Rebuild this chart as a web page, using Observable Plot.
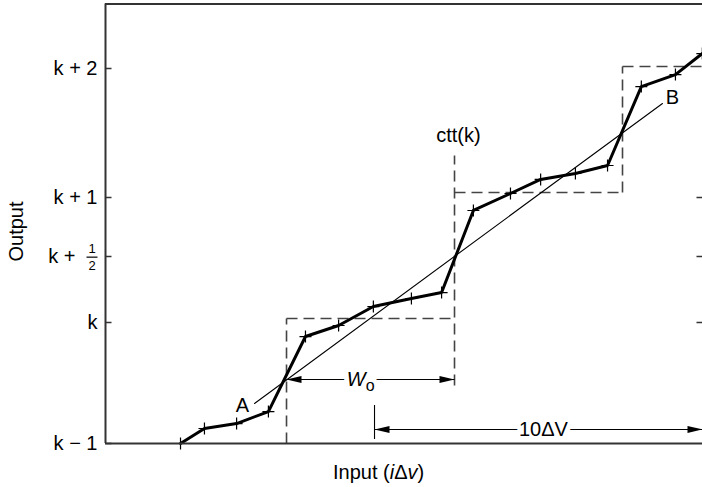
<!DOCTYPE html>
<html><head><meta charset="utf-8">
<script src="https://cdn.jsdelivr.net/npm/d3@7"></script>
<script src="https://cdn.jsdelivr.net/npm/@observablehq/plot@0.6"></script>
<style>body{margin:0;background:#fff}</style>
</head><body><div id="chart"></div>
<script>
// ---- data (x in units of Δv steps, y in output levels relative to k) ----
const inputI = [0, 0.73, 1.71, 2.68, 3.81, 4.82, 5.88, 7.04, 7.96, 8.93, 10.06, 10.98, 12.04, 13.02, 14.05, 15.09, 15.91];
const outputLevel = [-1, -0.876, -0.835, -0.736, -0.116, -0.025, 0.121, 0.182, 0.227, 0.890, 1.031, 1.140, 1.186, 1.248, 1.860, 1.953, 2.116];
const idealI = [2.256, 14.695];
const idealOut = [-0.669, 1.729];
const thresholdI = [3.232, 8.354, 13.476];
const levelOut = [0.030, 1.039, 2.016];
const cttSpan = [-0.521, 1.326];
const yTicks = [-1, 0, 0.5, 1, 2];
const yTickLabels = ["k − 1", "k", "k +", "k + 1", "k + 2"];
const rightTicks = [0, 0.5, 1];
const woSpan = [3.232, 8.354];
const woLevel = -0.471;
const dvStart = 5.915;
const dvSteps = 10;
const dvLevel = -0.884;
const dvBar = [-0.967, -0.686];
const xDomain = [-2.287, 15.915];
const yTop = 2.5;

// ---- derived tables ----
const curve = inputI.map((x, i) => ({x, y: outputLevel[i]}));
const ideal = idealI.map((x, i) => ({x, y: idealOut[i]}));
const dashed = [
  {x1: thresholdI[0], y1: -1, x2: thresholdI[0], y2: levelOut[0]},
  {x1: thresholdI[0], y1: levelOut[0], x2: thresholdI[1], y2: levelOut[0]},
  {x1: thresholdI[1], y1: cttSpan[0], x2: thresholdI[1], y2: cttSpan[1]},
  {x1: thresholdI[1], y1: levelOut[1], x2: thresholdI[2], y2: levelOut[1]},
  {x1: thresholdI[2], y1: levelOut[1], x2: thresholdI[2], y2: levelOut[2]},
  {x1: thresholdI[2], y1: levelOut[2], x2: xDomain[1], y2: levelOut[2]}
];
const dvEnd = dvStart + dvSteps;
const arrows = [
  {x1: woSpan[0], x2: woSpan[1], y: woLevel},
  {x1: dvStart, x2: dvEnd, y: dvLevel}
];
const headsLeft = arrows.map(a => ({x: a.x1, y: a.y}));
const headsRight = arrows.map(a => ({x: a.x2, y: a.y}));
const tickRows = yTicks.map((v, i) => ({v, label: yTickLabels[i]}));

// schematic (non-uniform) spacing of the output levels
const levelSpacing = d3.scaleLinear().domain([-1, 0, 0.5, 1, 2, yTop]).range([0, 121, 187, 246, 375, 439.5]);

// ---- symbols ----
const plusSym = {draw(c, s) { const r = Math.sqrt(s / Math.PI); c.moveTo(-r, 0); c.lineTo(r, 0); c.moveTo(0, -r); c.lineTo(0, r); }};
const headR = {draw(c) { c.moveTo(0, 0); c.lineTo(-15, -3.5); c.lineTo(-15, 3.5); c.closePath(); }};
const headL = {draw(c) { c.moveTo(0, 0); c.lineTo(15, -3.5); c.lineTo(15, 3.5); c.closePath(); }};
const tickInR = {draw(c, s) { const r = Math.sqrt(s / Math.PI); c.moveTo(0, 0); c.lineTo(r, 0); }};
const tickInL = {draw(c, s) { const r = Math.sqrt(s / Math.PI); c.moveTo(0, 0); c.lineTo(-r, 0); }};

const axisCol = "#333";
const xMin = xDomain[0];

const chart = Plot.plot({
  width: 702,
  height: 487,
  marginLeft: 105, marginRight: 0, marginTop: 0, marginBottom: 0,
  style: {fontFamily: "'Liberation Sans', Arial, Helvetica, sans-serif", fontSize: "20px", background: "white", color: "black"},
  x: {domain: xDomain, range: [105, 702], axis: null},
  y: {transform: levelSpacing, domain: [0, 439.5], range: [443, 3.5], axis: null},
  marks: [
    Plot.link(dashed, {x1: "x1", y1: "y1", x2: "x2", y2: "y2", stroke: "#444", strokeWidth: 1.6, strokeDasharray: "11,6"}),
    Plot.line(ideal, {x: "x", y: "y", stroke: "black", strokeWidth: 1.1}),
    Plot.line(curve, {x: "x", y: "y", stroke: "black", strokeWidth: 3, strokeLinejoin: "round"}),
    Plot.dot(curve, {x: "x", y: "y", symbol: plusSym, r: 6, stroke: "black", strokeWidth: 1.2, fill: "none"}),
    Plot.ruleY([yTop, -1], {stroke: axisCol, strokeWidth: 2}),
    Plot.ruleX([xMin], {y1: -1, y2: yTop, stroke: axisCol, strokeWidth: 2}),
    Plot.dot(yTicks, {x: xMin, y: d => d, symbol: tickInR, r: 6, stroke: axisCol, strokeWidth: 1.5, fill: "none"}),
    Plot.dot(rightTicks, {x: xDomain[1], y: d => d, symbol: tickInL, r: 6, stroke: axisCol, strokeWidth: 1.5, fill: "none"}),
    Plot.text(tickRows.filter(d => d.v !== 0.5), {x: xMin, y: "v", text: "label", textAnchor: "end", dx: -8}),
    Plot.text(tickRows.filter(d => d.v === 0.5), {x: xMin, y: "v", text: "label", textAnchor: "end", dx: -30}),
    Plot.text(["1"], {x: xMin, y: 0.5, text: d => d, dx: -13.5, dy: -8, fontSize: 13}),
    Plot.text(["2"], {x: xMin, y: 0.5, text: d => d, dx: -13.5, dy: 9, fontSize: 13}),
    Plot.link(arrows, {x1: "x1", x2: "x2", y1: "y", y2: "y", stroke: "black", strokeWidth: 1.1}),
    Plot.dot(headsLeft, {x: "x", y: "y", symbol: headL, fill: "black", stroke: "none"}),
    Plot.dot(headsRight, {x: "x", y: "y", symbol: headR, fill: "black", stroke: "none"}),
    Plot.ruleX([dvStart], {y1: dvBar[0], y2: dvBar[1], stroke: "black", strokeWidth: 1.1}),
    Plot.text(["10ΔV"], {x: (dvStart + dvEnd) / 2 + 0.15, y: dvLevel, text: d => d, stroke: "white", strokeWidth: 10, fill: "black"}),
    Plot.text(["Wo"], {x: (woSpan[0] + woSpan[1]) / 2 - 0.3, y: woLevel, text: d => d, stroke: "white", strokeWidth: 10, fill: "black"}),
    Plot.text(["ctt(k)"], {x: thresholdI[1] + 0.12, y: 1.48, text: d => d}),
    Plot.text(["A"], {x: 1.89, y: -0.686, text: d => d}),
    Plot.text(["B"], {x: 15.0, y: 1.775, text: d => d}),
    Plot.text(["Output"], {x: xMin, y: 0.712, dx: -89, rotate: -90, text: d => d}),
    Plot.text(["Input (iΔv)"], {x: 6.04, y: -1.24, text: d => d})
  ]
});

const SVGNS = "http://www.w3.org/2000/svg";
let oneText = null, twoText = null;
// mixed styles inside single labels (italic variables, subscript)
chart.querySelectorAll("text").forEach(t => {
  if (t.textContent === "Input (iΔv)") {
    t.textContent = "";
    const parts = [["Input (", false], ["i", true], ["Δ", false], ["v", true], [")", false]];
    for (const [s, it] of parts) {
      const sp = document.createElementNS(SVGNS, "tspan");
      sp.textContent = s;
      if (it) sp.setAttribute("font-style", "italic");
      t.append(sp);
    }
  } else if (t.textContent === "Wo") {
    t.textContent = "";
    const w = document.createElementNS(SVGNS, "tspan");
    w.textContent = "W"; w.setAttribute("font-style", "italic");
    const o = document.createElementNS(SVGNS, "tspan");
    o.textContent = "o"; o.setAttribute("font-size", "16px"); o.setAttribute("dy", "5");
    t.append(w, o);
  } else if (t.textContent === "1") {
    oneText = t;
  } else if (t.textContent === "2") {
    twoText = t;
  }
});

document.getElementById("chart").append(chart);

// fraction bar of the k + 1/2 label, placed between its numerator and denominator
if (oneText && twoText) {
  const sr = chart.getBoundingClientRect();
  const a = oneText.getBoundingClientRect();
  const b = twoText.getBoundingClientRect();
  const cx = (a.left + a.right) / 2 - sr.left;
  const cy = ((a.top + a.bottom) / 2 + (b.top + b.bottom) / 2) / 2 - sr.top + 0.5;
  const line = document.createElementNS(SVGNS, "line");
  line.setAttribute("x1", cx - 5.5);
  line.setAttribute("x2", cx + 5.5);
  line.setAttribute("y1", cy);
  line.setAttribute("y2", cy);
  line.setAttribute("stroke", "black");
  line.setAttribute("stroke-width", "1.2");
  chart.append(line);
}
</script></body></html>
